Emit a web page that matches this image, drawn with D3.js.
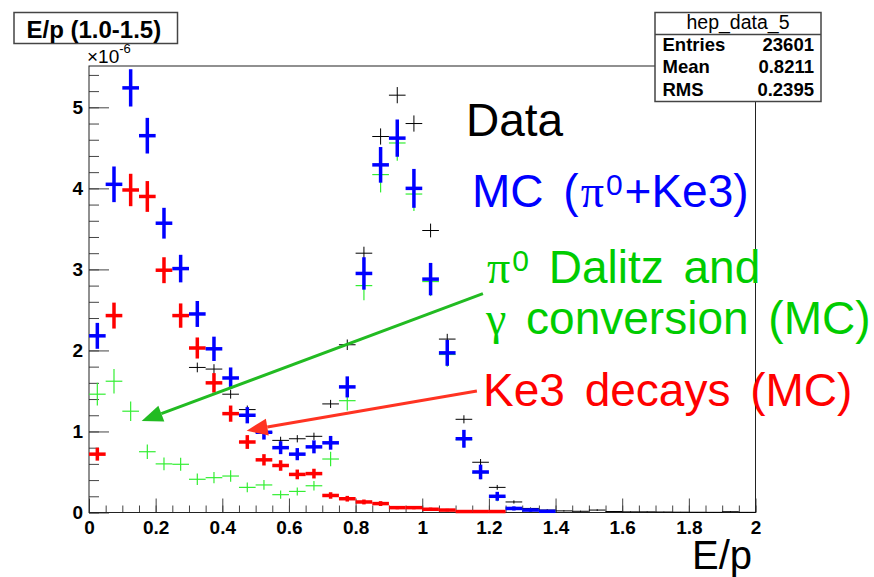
<!DOCTYPE html>
<html>
<head>
<meta charset="utf-8">
<script src="https://cdn.jsdelivr.net/npm/d3@7"></script>
<style>
  body { margin: 0; background: #fff; }
  svg { display: block; font-family: 'Liberation Sans', Arial, sans-serif; }
  .tick text { font-weight: bold; font-size: 19px; fill: #000; }
</style>
</head>
<body>
<svg id="chart" width="874" height="577"></svg>
<script>
// E/p histograms, bins of 0.05 starting at 0, values in units of 1e-6
const binWidth = 0.05;

// data (null = empty bin)
const dataVals = [null, null, null, null, null, null, 1.79, 1.77, 1.46, 1.27,
                  0.99, 0.89, 0.91, 0.94, 1.34, 2.07, 3.20, 4.64, 5.15, 4.80,
                  3.48, 2.14, 1.15, 0.62, 0.31, 0.13, 0.05, 0.03, 0.02, 0.015,
                  0.03, 0.012, 0.008, 0.008, 0.006, 0.004, 0.003, 0.002, 0.01, 0.002];
const dataErr = [null, null, null, null, null, null, 0.06, 0.06, 0.055, 0.05,
                 0.045, 0.045, 0.045, 0.045, 0.05, 0.065, 0.08, 0.1, 0.1, 0.1,
                 0.085, 0.065, 0.05, 0.04, 0.03, 0.02, 0.012, 0.01, 0.008, 0.007,
                 0.01, 0.006, 0.005, 0.005, 0.004, 0.003, 0.003, 0.002, 0.005, 0.002];

// MC total (pi0 + Ke3)
const mcTotal = [2.18, 4.05, 5.24, 4.65, 3.57, 3.01, 2.45, 2.02, 1.66, 1.20,
                 0.99, 0.80, 0.72, 0.81, 0.86, 1.55, 2.95, 4.29, 4.62, 4.00,
                 2.88, 1.97, 0.91, 0.50, 0.20, 0.05, 0.03, 0.015];
const mcTotalErr = [0.16, 0.22, 0.23, 0.22, 0.19, 0.17, 0.16, 0.15, 0.13, 0.10,
                    0.09, 0.08, 0.075, 0.08, 0.085, 0.13, 0.2, 0.22, 0.23, 0.24,
                    0.2, 0.16, 0.11, 0.09, 0.055, 0.025, 0.02, 0.015];

// Ke3 decays (MC)
const ke3 = [0.72, 2.43, 3.98, 3.90, 2.99, 2.43, 2.03, 1.60, 1.22, 0.87,
             0.65, 0.58, 0.47, 0.48, 0.21, 0.17, 0.13, 0.11, 0.06, 0.06,
             0.04, 0.03, 0.012, 0.012, 0.012];
const ke3Err = [0.08, 0.16, 0.2, 0.19, 0.16, 0.15, 0.13, 0.12, 0.1, 0.085,
                0.07, 0.065, 0.06, 0.06, 0.04, 0.035, 0.03, 0.03, 0.02, 0.02,
                0.02, 0.015, 0.01, 0.01, 0.01];

// pi0 Dalitz and gamma conversion (MC)
const dalitz = [1.46, 1.62, 1.25, 0.75, 0.60, 0.595, 0.41, 0.43, 0.45, 0.31,
                0.34, 0.22, 0.26, 0.33, 0.66, 1.38, 2.80, 4.17, 4.56, 3.93,
                2.85, 1.95, 0.90, 0.49, 0.19, 0.05, 0.03, 0.015];
const dalitzErr = [0.14, 0.15, 0.12, 0.09, 0.08, 0.08, 0.07, 0.07, 0.07, 0.06,
                   0.06, 0.05, 0.05, 0.06, 0.09, 0.12, 0.18, 0.22, 0.22, 0.21,
                   0.18, 0.15, 0.1, 0.08, 0.05, 0.02, 0.02, 0.015];

const xTicks = [0, 0.2, 0.4, 0.6, 0.8, 1.0, 1.2, 1.4, 1.6, 1.8, 2.0];
const xTickLabels = ['0', '0.2', '0.4', '0.6', '0.8', '1', '1.2', '1.4', '1.6', '1.8', '2'];
const yTicks = [0, 1, 2, 3, 4, 5];
const yTickLabels = ['0', '1', '2', '3', '4', '5'];

const statRows = [['Entries', '23601'], ['Mean', '0.8211'], ['RMS', '0.2395']];

const svg = d3.select('#chart'),
      margin = { top: 66, right: 118.5, bottom: 64.5, left: 89 },
      width = +svg.attr('width') - margin.left - margin.right,
      height = +svg.attr('height') - margin.top - margin.bottom;

svg.append('rect').attr('width', 874).attr('height', 577).attr('fill', '#fff');

const g = svg.append('g')
    .attr('transform', `translate(${margin.left},${margin.top})`);

const x = d3.scaleLinear().domain([0, 2]).range([0, width]);
const y = d3.scaleLinear().domain([0, 5.51]).range([height, 0]);

// minor ticks first, then majors with labels (ROOT style, pointing inward)
const xMinor = d3.range(0, 2.001, binWidth);
const yMinor = d3.range(0, 5.45, 0.2);

function styleAxis(sel) {
  sel.select('.domain').remove();
  sel.selectAll('line').attr('stroke', '#444');
}

g.append('g')
  .attr('transform', `translate(0,${height})`)
  .call(d3.axisBottom(x).tickValues(xMinor).tickSize(-7).tickFormat(''))
  .call(styleAxis);
g.append('g')
  .attr('transform', `translate(0,${height})`)
  .call(d3.axisBottom(x).tickValues(xTicks).tickSize(-14).tickPadding(8)
          .tickFormat((d, i) => xTickLabels[i]))
  .call(styleAxis);

g.append('g')
  .call(d3.axisLeft(y).tickValues(yMinor).tickSize(-10).tickFormat(''))
  .call(styleAxis);
g.append('g')
  .call(d3.axisLeft(y).tickValues(yTicks).tickSize(-20).tickPadding(6)
          .tickFormat((d, i) => yTickLabels[i]))
  .call(styleAxis);

// frame
g.append('rect')
  .attr('width', width).attr('height', height)
  .attr('fill', 'none').attr('stroke', '#222').attr('stroke-width', 1);

// each bin: horizontal bar across the bin plus a vertical error bar
function drawHist(vals, errs, color, lw) {
  const pts = vals.map((v, i) => ({ i, v, e: errs[i] })).filter(d => d.v !== null);
  const grp = g.append('g').attr('stroke', color).attr('stroke-width', lw);
  grp.selectAll('.hbar')
    .data(pts)
    .enter().append('line')
      .attr('x1', d => x(d.i * binWidth))
      .attr('x2', d => x((d.i + 1) * binWidth))
      .attr('y1', d => y(d.v))
      .attr('y2', d => y(d.v));
  grp.selectAll('.vbar')
    .data(pts)
    .enter().append('line')
      .attr('x1', d => x((d.i + 0.5) * binWidth))
      .attr('x2', d => x((d.i + 0.5) * binWidth))
      .attr('y1', d => y(Math.max(0, d.v - d.e)))
      .attr('y2', d => y(d.v + d.e));
}

drawHist(dataVals, dataErr, '#000', 1);
drawHist(dalitz, dalitzErr, '#33ee33', 1.2);
drawHist(ke3, ke3Err, '#ff0000', 3.5);
drawHist(mcTotal, mcTotalErr, '#0000ff', 3.5);

// arrows pointing at the MC components
function arrow(from, to, color) {
  const x1 = x(from[0]), y1 = y(from[1]), x2 = x(to[0]), y2 = y(to[1]);
  const ang = Math.atan2(y2 - y1, x2 - x1), len = 21, hw = 8.5;
  const bx = x2 - len * Math.cos(ang), by = y2 - len * Math.sin(ang);
  g.append('line')
    .attr('x1', x1).attr('y1', y1).attr('x2', bx).attr('y2', by)
    .attr('stroke', color).attr('stroke-width', 3);
  g.append('path')
    .attr('d', `M${x2},${y2}L${bx + hw * Math.sin(ang)},${by - hw * Math.cos(ang)}` +
               `L${bx - hw * Math.sin(ang)},${by + hw * Math.cos(ang)}Z`)
    .attr('fill', color);
}
arrow([1.182, 2.70], [0.158, 1.13], '#22bb22');
arrow([1.164, 1.50], [0.473, 1.01], '#ff3322');

// legend text (latex-style wide spaces)
const big = 46;
const legend = svg.append('g').attr('font-size', big).attr('word-spacing', 7);

legend.append('text').attr('x', 466).attr('y', 136)
  .attr('fill', '#000').text('Data');

const mc = legend.append('text').attr('x', 472).attr('y', 207).attr('fill', '#0000ff');
mc.append('tspan').text('MC (');
mc.append('tspan').attr('font-family', 'Liberation Serif, serif').attr('dx', 2).text('π');
mc.append('tspan').attr('font-size', 30).attr('dy', -12).attr('dx', 2).text('0');
mc.append('tspan').attr('dy', 12).attr('dx', 2).text('+Ke3)');

const dal = legend.append('text').attr('x', 487).attr('y', 283).attr('fill', '#00cc00');
dal.append('tspan').attr('font-family', 'Liberation Serif, serif').text('π');
dal.append('tspan').attr('font-size', 30).attr('dy', -12).attr('dx', 2).text('0');
dal.append('tspan').attr('dy', 12).text(' Dalitz and');

const conv = legend.append('text').attr('x', 486).attr('y', 334).attr('fill', '#00cc00');
conv.append('tspan').attr('font-family', 'Liberation Serif, serif').text('γ');
conv.append('tspan').text(' conversion (MC)');

legend.append('text').attr('x', 483).attr('y', 406)
  .attr('fill', '#ff0000').text('Ke3 decays (MC)');

// axis title and exponent
svg.append('text').attr('x', 752).attr('y', 569)
  .attr('text-anchor', 'end').attr('font-size', 40).text('E/p');

const expo = svg.append('text').attr('x', 87).attr('y', 63).attr('font-size', 19);
expo.append('tspan').text('×10');
expo.append('tspan').attr('font-size', 13).attr('dy', -10).text('-6');

// title box
svg.append('rect').attr('x', 14).attr('y', 12.5).attr('width', 163.5).attr('height', 31)
  .attr('fill', '#fff').attr('stroke', '#444').attr('stroke-width', 1.5);
svg.append('text').attr('x', 26.5).attr('y', 37.5)
  .attr('font-size', 24).attr('font-weight', 'bold').text('E/p (1.0-1.5)');

// statistics box
const stats = svg.append('g');
stats.append('rect').attr('x', 655).attr('y', 12.5).attr('width', 166).attr('height', 89)
  .attr('fill', '#fff').attr('stroke', '#444').attr('stroke-width', 1.5);
stats.append('line').attr('x1', 655).attr('x2', 821).attr('y1', 34.5).attr('y2', 34.5)
  .attr('stroke', '#444').attr('stroke-width', 1.5);
stats.append('text').attr('x', 738).attr('y', 28.5).attr('text-anchor', 'middle')
  .attr('font-size', 19.5).text('hep_data_5');
statRows.forEach((r, i) => {
  stats.append('text').attr('x', 662.5).attr('y', 50.5 + i * 22.5)
    .attr('font-size', 18.5).attr('font-weight', 'bold').text(r[0]);
  stats.append('text').attr('x', 814).attr('y', 50.5 + i * 22.5).attr('text-anchor', 'end')
    .attr('font-size', 18.5).attr('font-weight', 'bold').text(r[1]);
});
</script>
</body>
</html>
